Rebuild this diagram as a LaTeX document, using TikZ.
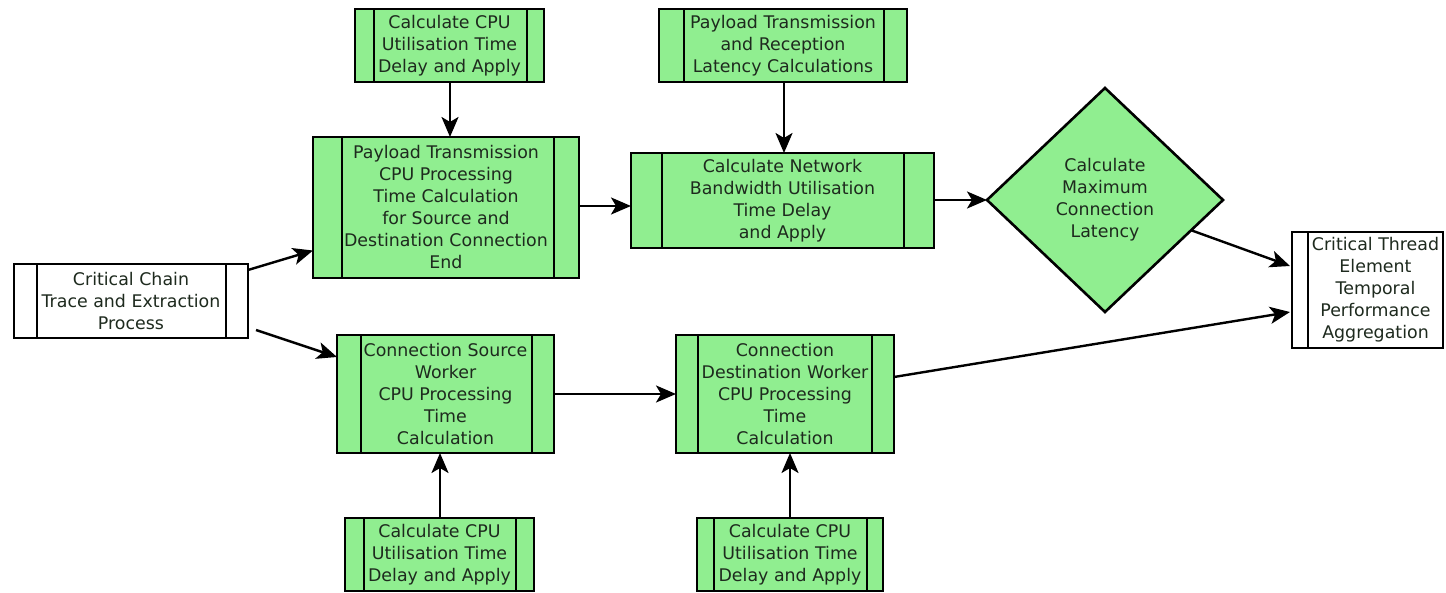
\documentclass[tikz,border=0pt]{standalone}
\usepackage{fontspec}
\setmainfont{DejaVu Sans}
\usetikzlibrary{shapes.geometric,arrows.meta,calc}

\definecolor{procgreen}{HTML}{90EE90}
\definecolor{txt}{HTML}{1E2A1E}
\newcommand\boxfont{\fontsize{17.4}{22}\selectfont}

% A predefined-process box: node from (x1,y1) to (x2,y2) with two inner bars
% #1 style, #2 name, #3 x1, #4 y1, #5 x2, #6 y2, #7 left bar x, #8 right bar x, #9 text
\newcommand\procbox[9]{%
  \node[#1, minimum width={#5-#3}, minimum height={#6-#4}] (#2)
    at ({(#3+#5)/2},{(#4+#6)/2}) {#9};
  \draw[barline] (#7,#4) -- (#7,#6);
  \draw[barline] (#8,#4) -- (#8,#6);
}

\begin{document}
\begin{tikzpicture}[x=1pt,y=-1pt,
  proc/.style={draw, line width=2.6pt, fill=procgreen, inner sep=0pt,
    outer sep=0pt, align=center, font=\boxfont, text=txt},
  plainproc/.style={proc, fill=white},
  barline/.style={line width=2.6pt},
  arr/.style={line width=2.4pt, -{Stealth[length=20pt,width=17pt,inset=5pt]}}]
\useasboundingbox (0,0) rectangle (1446,593);

% top row
\procbox{proc}{cpuA}{355}{9}{544}{82}{374}{527}{Calculate CPU\\Utilisation Time\\Delay and Apply}
\procbox{proc}{latency}{659}{9}{907}{82}{684}{884}{Payload Transmission\\and Reception\\Latency Calculations}

% middle row
\procbox{plainproc}{chain}{14}{264}{248}{338}{37}{226}{Critical Chain\\Trace and Extraction\\Process}
\procbox{proc}{payload}{313}{137}{579}{278}{342}{554}{Payload Transmission\\CPU Processing\\Time Calculation\\for Source and\\Destination Connection\\End}
\procbox{proc}{network}{631}{153}{934}{248}{662}{904}{Calculate Network\\Bandwidth Utilisation\\Time Delay\\and Apply}
\node[proc, diamond, minimum width=236, minimum height=224] (maxlat) at (1105,200)
  {Calculate\\Maximum\\Connection\\Latency};

% aggregation box (single inner bar)
\node[plainproc, minimum width=151, minimum height=116] (aggr) at (1367.5,290)
  {\hspace*{16pt}Critical Thread\\\hspace*{16pt}Element\\\hspace*{16pt}Temporal\\\hspace*{16pt}Performance\\\hspace*{16pt}Aggregation};
\draw[barline] (1308,232) -- (1308,348);

% lower row
\procbox{proc}{srcw}{337}{335}{554}{453}{361}{532}{Connection Source\\Worker\\CPU Processing\\Time\\Calculation}
\procbox{proc}{dstw}{676}{335}{894}{453}{698}{872}{Connection\\Destination Worker\\CPU Processing\\Time\\Calculation}

% bottom row
\procbox{proc}{cpuB}{345}{518}{534}{591}{364}{516}{Calculate CPU\\Utilisation Time\\Delay and Apply}
\procbox{proc}{cpuC}{697}{518}{883}{591}{714}{867}{Calculate CPU\\Utilisation Time\\Delay and Apply}

% connectors
\draw[arr] (cpuA.south -| 450,0) -- (payload.north -| 450,0);
\draw[arr] (latency.south -| 784,0) -- (network.north -| 784,0);
\draw[arr] ($(chain.north east)+(0,6)$) -- ($(payload.west)+(0,43)$);
\draw[arr] ($(chain.south east)+(8,-8)$) -- ($(srcw.west)+(0,-37)$);
\draw[arr] (payload.east |- 0,206) -- (network.west |- 0,206);
\draw[arr] (network.east |- 0,200) -- (maxlat.west);
\draw[arr] ($(maxlat.east)!0.27!(maxlat.south)$) -- ($(aggr.west)+(-2,-24)$);
\draw[arr] ($(dstw.east)+(0,-17)$) -- ($(aggr.west)+(-2,22)$);
\draw[arr] (srcw.east) -- (dstw.west);
\draw[arr] (cpuB.north -| 440,0) -- (srcw.south -| 440,0);
\draw[arr] (cpuC.north -| 790,0) -- (dstw.south -| 790,0);
\end{tikzpicture}
\end{document}
